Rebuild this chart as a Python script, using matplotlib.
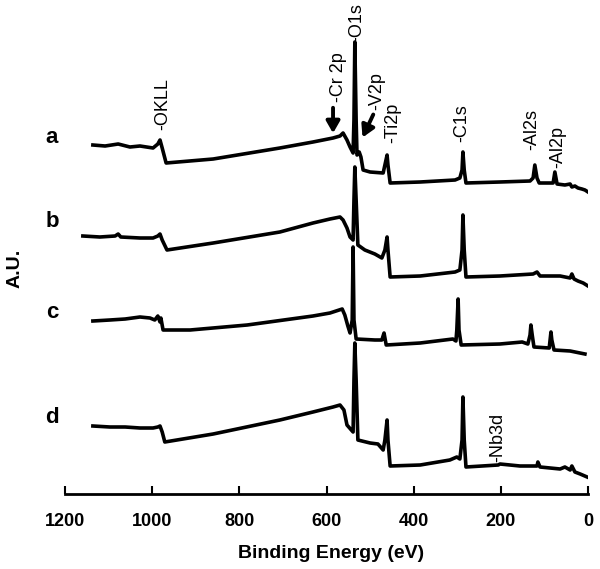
import matplotlib
matplotlib.use("Agg")
import matplotlib.pyplot as plt

plt.rcParams['font.family'] = ['Liberation Sans', 'DejaVu Sans']

# ---- data (binding energy in eV, intensity in arbitrary units) ----
energy_a = [1136,1108,1078,1051,1028,998,987,982,977,968,860,707,631,585,569,562,553,546,539,537,
            535,532,530,525,521,516,500,470,466,461,459,454,385,305,294,289,287,284,280,202,
            133,126,122,117,112,80,76,71,53,41,37,30,23,14,7,0]
inten_a = [349,348,350,347,348,346,350,354,346,331,335,346,352,356,358,361,354,347,341,374,
           452,374,339,342,337,324,322,321,329,339,329,311,312,314,316,324,342,324,311,312,
           313,316,329,316,311,311,322,310,309,310,307,308,306,305,304,302]

energy_b = [1159,1120,1085,1078,1072,1028,998,987,982,977,966,860,707,631,592,569,562,553,546,539,
            537,535,532,528,512,489,473,466,461,459,454,385,305,294,289,287,284,280,202,126,
            117,110,64,41,37,32,23,11,0]
inten_b = [258,257,258,260,257,256,256,258,260,254,244,251,262,271,275,277,274,266,257,254,
           294,327,294,249,244,240,236,244,257,244,217,218,222,224,244,279,244,217,218,220,
           222,218,218,216,220,215,213,211,208]

energy_c = [1136,1097,1062,1028,1005,994,987,982,980,975,913,782,631,592,564,558,551,546,541,539,
            537,532,489,473,468,463,385,310,303,301,298,296,291,202,151,138,133,131,128,124,
            89,87,85,83,78,41,7]
inten_c = [173,174,175,177,176,174,178,172,176,164,164,169,178,181,185,179,168,161,174,247,
           174,155,154,154,161,149,151,155,153,164,195,164,149,150,152,150,159,169,159,147,
           146,154,162,154,144,143,140]

energy_d = [1136,1097,1062,1028,998,987,982,977,971,860,707,631,585,569,560,553,539,537,535,532,
            528,500,482,470,466,461,459,454,385,317,301,294,289,287,284,280,206,202,156,117,
            115,110,64,53,41,37,30,18,2]
inten_d = [68,67,67,66,66,67,68,62,52,60,74,82,87,89,84,69,62,114,151,114,
           54,51,50,44,54,74,54,28,29,34,37,35,54,97,54,27,29,30,28,28,
           32,27,25,27,24,28,22,20,17]

series_names = ['a', 'b', 'c', 'd']
series_label_y = [0.758, 0.610, 0.450, 0.267]

peak_labels = ['-OKLL', '-Cr 2p', '-O1s', '-V2p', '-Ti2p', '-C1s', '-Al2s', '-Al2p', '-Nb3d']
peak_label_E = [975, 573, 530, 484, 448, 289, 128, 69, 206]
peak_label_I = [364, 392, 452, 384, 351, 352, 344, 326, 32]

xticks = [1200, 1000, 800, 600, 400, 200, 0]

# ---- figure ----
W, H = 600, 569
fig = plt.figure(figsize=(W / 100, H / 100), dpi=100)
ax = fig.add_axes([65 / W, 75 / H, 523 / W, 494 / H])

for e, i in [(energy_a, inten_a), (energy_b, inten_b), (energy_c, inten_c), (energy_d, inten_d)]:
    ax.plot(e, i, color='black', lw=2.6, solid_joinstyle='round')

ax.set_xlim(1200, 0)
ax.set_ylim(0, 494)
ax.set_xticks(xticks)
ax.set_xticklabels([str(t) for t in xticks], fontsize=13, fontweight='bold')
ax.set_yticks([])
for s in ['left', 'right', 'top']:
    ax.spines[s].set_visible(False)
ax.spines['bottom'].set_linewidth(2.0)
ax.tick_params(axis='x', direction='in', length=6, width=1.5, pad=14)
ax.patch.set_alpha(0)

for txt, e, i in zip(peak_labels, peak_label_E, peak_label_I):
    ax.text(e, i, txt, rotation=90, ha='center', va='bottom', fontsize=13)

# arrows for Cr 2p and V2p
ax.annotate('', xy=(585, 358), xytext=(585, 389),
            arrowprops=dict(arrowstyle='-|>,head_width=0.4,head_length=0.7', lw=2.8, color='black'))
ax.annotate('', xy=(520, 354), xytext=(490, 382),
            arrowprops=dict(arrowstyle='-|>,head_width=0.4,head_length=0.7', lw=2.8, color='black'))

for name, yy in zip(series_names, series_label_y):
    fig.text(52 / W, yy, name, ha='center', va='center', fontsize=16, fontweight='bold')

fig.text(15 / W, 1 - 268 / H, 'A.U.', rotation=90, ha='center', va='center', fontsize=14, fontweight='bold')
fig.text(331 / W, 1 - 553 / H, 'Binding Energy (eV)', ha='center', va='center', fontsize=14, fontweight='bold')

fig.savefig('out.png', dpi=100)
